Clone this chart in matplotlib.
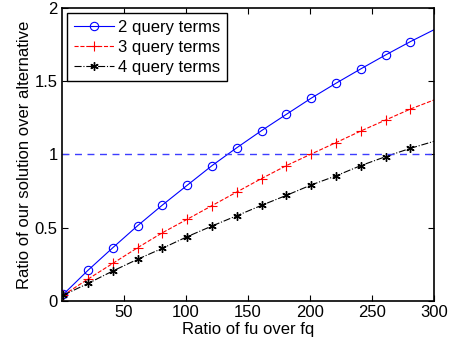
import numpy as np
import matplotlib.pyplot as plt

plt.rcParams["font.family"] = ["Liberation Sans", "DejaVu Sans"]

ratio = np.arange(1, 302, 20)
terms2 = [0.045, 0.21, 0.364, 0.514, 0.655, 0.79, 0.924, 1.046, 1.163, 1.274,
          1.384, 1.486, 1.584, 1.679, 1.77, 1.855]
terms3 = [0.04, 0.15, 0.257, 0.364, 0.466, 0.558, 0.651, 0.744, 0.836, 0.924,
          1.003, 1.081, 1.16, 1.235, 1.31, 1.375]
terms4 = [0.04, 0.12, 0.205, 0.285, 0.36, 0.439, 0.512, 0.582, 0.653, 0.721,
          0.792, 0.854, 0.924, 0.985, 1.042, 1.092]
baseline = 1.0

fig = plt.figure(figsize=(4.51, 3.46), dpi=100)
ax = fig.add_axes([0.1375, 0.130, 0.8245, 0.847])

# last sample lies just past the axis limit, its marker is not shown
marks = slice(0, len(ratio) - 1)
asterisk = (6, 2, 0)

ax.plot(ratio, terms2, "b-", marker="o", lw=0.8, ms=6, mfc="none", mew=0.8,
        markevery=marks, label="2 query terms")
ax.plot(ratio, terms3, "r--", marker="+", lw=0.8, ms=7, mew=0.8,
        markevery=marks, label="3 query terms")
ax.plot(ratio, terms4, "k-.", marker=asterisk, lw=0.8, ms=6, mew=1.0,
        markevery=marks, label="4 query terms")
ax.axhline(baseline, color="#3d3dff", ls=(0, (5, 4)), lw=1.0)

ax.set_xlim(0, 300)
ax.set_ylim(0, 2)
ax.set_xticks([50, 100, 150, 200, 250, 300])
ax.set_yticks([0, 0.5, 1, 1.5, 2])
ax.set_yticklabels(["0", "0.5", "1", "1.5", "2"])
ax.tick_params(direction="in", top=True, right=True, labelsize=12, length=4, pad=3)
for s in ax.spines.values():
    s.set_linewidth(1.2)

ax.set_xlabel("Ratio of fu over fq", fontsize=12, labelpad=1)
ax.set_ylabel("Ratio of our solution over alternative", fontsize=12, labelpad=2)

leg = ax.legend(loc="upper left", fontsize=12, fancybox=False, edgecolor="k",
                framealpha=1, borderaxespad=0.3, handlelength=2.4,
                handletextpad=0.25, labelspacing=0.3, borderpad=0.4)
leg.get_frame().set_linewidth(1.0)

fig.savefig("out.png", dpi=100)
